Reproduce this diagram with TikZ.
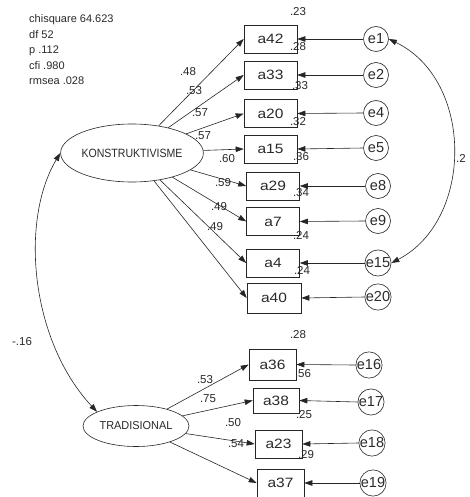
\documentclass[tikz,border=0pt]{standalone}
\usepackage{fontspec}
\setmainfont{Liberation Sans}
\newfontfamily\boxfont[FakeStretch=1.15]{Liberation Sans}
\newfontfamily\kfont[FakeStretch=0.88]{Liberation Sans}
\newfontfamily\tfont[FakeStretch=0.95]{Liberation Sans}
\usetikzlibrary{arrows.meta,shapes.geometric}
\definecolor{linec}{HTML}{262626}
\definecolor{txt}{HTML}{2A2A2A}
\begin{document}
\begin{tikzpicture}[x=1pt,y=-1pt,
 obs/.style={draw=linec, line width=0.6pt, minimum width=53pt, minimum height=28pt, inner sep=0pt, font=\boxfont\fontsize{13.5}{13.5}\selectfont, text=txt},
 err/.style={circle, draw=linec, line width=0.6pt, minimum size=25pt, inner sep=0pt, font=\fontsize{14.5}{14.5}\selectfont, text=txt},
 lat/.style={ellipse, draw=linec, line width=0.6pt, inner sep=0pt, text=txt},
 lbl/.style={font=\fontsize{11.5}{11.5}\selectfont, text=txt, inner sep=0pt},
 stat/.style={font=\fontsize{11}{11}\selectfont, text=txt, inner sep=0pt, anchor=west},
 arr/.style={draw=linec, line width=0.6pt, -{Triangle[length=8pt,width=5.5pt]}},
 darr/.style={draw=linec, line width=0.6pt, {Triangle[length=8pt,width=5.5pt]}-{Triangle[length=8pt,width=5.5pt]}}
]
\useasboundingbox[fill=white] (0,0) rectangle (469,497);

% fit statistics
\node[stat] (s1) at (29,20) {chisquare 64.623};
\node[stat] (s2) at (29,35) {df 52};
\node[stat] (s3) at (29,51) {p .112};
\node[stat] (s4) at (29,66) {cfi .980};
\node[stat] (s5) at (29,81) {rmsea .028};

% latent variables
\node[lat, minimum width=105pt, minimum height=58pt, font=\kfont\fontsize{12}{12}\selectfont] (K) at (132,153) {KONSTRUKTIVISME};
\node[lat, minimum width=106pt, minimum height=41pt, font=\tfont\fontsize{11.5}{11.5}\selectfont] (T) at (136,426) {TRADISIONAL};

% observed (top)
\node[obs] (a42) at (270.5,39) {a42};
\node[obs] (a33) at (270.5,75) {a33};
\node[obs] (a20) at (270.5,113.5) {a20};
\node[obs] (a15) at (270.5,149) {a15};
\node[obs] (a29) at (273,186) {a29};
\node[obs] (a7) at (273,221.5) {a7};
\node[obs] (a4) at (273,263) {a4};
\node[obs, minimum width=54pt, minimum height=30pt] (a40) at (274,298) {a40};

% observed (bottom)
\node[obs, minimum width=47pt, minimum height=31pt] (a36) at (272.5,364.5) {a36};
\node[obs, minimum width=46pt, minimum height=25pt] (a38) at (276,400.5) {a38};
\node[obs, minimum width=47pt, minimum height=28pt] (a23) at (278.5,444) {a23};
\node[obs, minimum width=47pt, minimum height=28pt] (a37) at (280.5,483) {a37};

% errors
\node[err] (e1) at (376,39) {e1};
\node[err] (e2) at (376,75) {e2};
\node[err] (e4) at (376,113) {e4};
\node[err] (e5) at (376,148) {e5};
\node[err] (e8) at (378,186) {e8};
\node[err] (e9) at (378,221) {e9};
\node[err] (e15) at (378,263) {e15};
\node[err] (e20) at (378,297) {e20};
\node[err] (e16) at (369,365) {e16};
\node[err] (e17) at (371,402) {e17};
\node[err] (e18) at (372,443) {e18};
\node[err] (e19) at (373,483) {e19};

% loadings
\foreach \b in {a42,a33,a20,a15,a29,a7,a4,a40} \draw[arr] (K) -- (\b.west);
\foreach \b in {a36,a38,a23,a37} \draw[arr] (T) -- (\b.west);

% error paths
\foreach \e/\b in {e1/a42,e2/a33,e4/a20,e5/a15,e8/a29,e9/a7,e15/a4,e20/a40,e16/a36,e17/a38,e18/a23,e19/a37}
  \draw[arr] (\e.west) -- (\b.east);

% covariances
\draw[darr] (K.west) .. controls (20,220) and (30,340) .. (T.160);
\draw[darr] (e1.east) .. controls (474,80) and (474,220) .. (e15.east);

% labels
\node[lbl] (r1) at (298,12) {.23};
\node[lbl] (r2) at (298,47) {.28};
\node[lbl] (r3) at (300,86) {.33};
\node[lbl] (r4) at (298,122) {.32};
\node[lbl] (r5) at (301,157) {.36};
\node[lbl] (r6) at (301,193) {.34};
\node[lbl] (r7) at (301,235) {.24};
\node[lbl] (r8) at (302,270) {.24};

\node[lbl] (l1) at (188,72) {.48};
\node[lbl] (l2) at (194,91) {.53};
\node[lbl] (l3) at (200,113) {.57};
\node[lbl] (l4) at (203,136) {.57};
\node[lbl] (l5) at (227,159) {.60};
\node[lbl] (l6) at (223,183) {.59};
\node[lbl] (l7) at (219,207) {.49};
\node[lbl] (l8) at (215,227) {.49};

\node[lbl] (r9) at (298,335) {.28};
\node[lbl] (r10) at (303,374) {.56};
\node[lbl] (r11) at (304,415) {.25};
\node[lbl] (r12) at (306,455) {.29};

\node[lbl] (m1) at (205,380) {.53};
\node[lbl] (m2) at (208,399) {.75};
\node[lbl] (m3) at (233,423) {.50};
\node[lbl] (m4) at (236,444) {.54};

\node[lbl] (c1) at (22,342) {-.16};
\node[lbl, anchor=west] (c2) at (456,158) {.2};
\end{tikzpicture}
\end{document}
